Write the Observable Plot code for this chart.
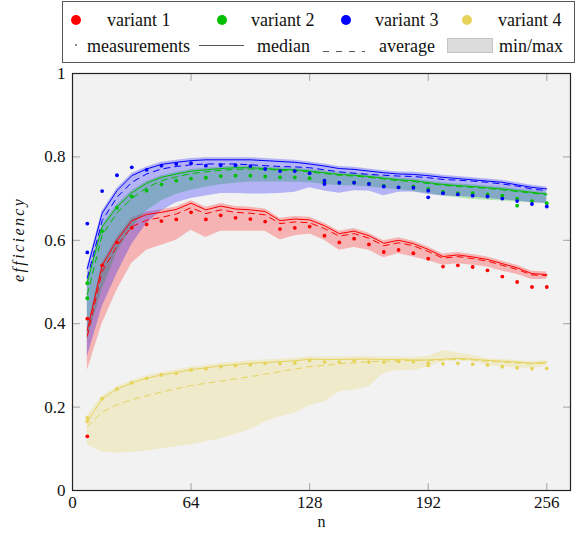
<!DOCTYPE html>
<html>
<head>
<meta charset="utf-8">
<script src="https://cdn.jsdelivr.net/npm/d3@7"></script>
<script src="https://cdn.jsdelivr.net/npm/@observablehq/plot@0.6"></script>
<style>
  html, body { margin: 0; padding: 0; background: #ffffff; overflow: hidden; }
  #legend { position: relative; width: 576px; height: 56px; font-family: "Liberation Serif", "DejaVu Serif", "Times New Roman", serif; font-size: 18px; color: #111; }
  #legend .t { position: absolute; line-height: 22px; white-space: nowrap; }
  #legend .dot { position: absolute; border-radius: 50%; }
</style>
</head>
<body>
<div id="legend"></div>
<div id="chart"></div>
<script>
// ---------- data ----------
const variants = ["variant 1", "variant 2", "variant 3", "variant 4"];
const colors = ["#ff0000", "#00bf00", "#0000ff", "#e6d45a"];
const xTicks = [0, 64, 128, 192, 256];
const yTicks = [0, 0.2, 0.4, 0.6, 0.8, 1];

const n = [8,16,24,32,40,48,56,64,72,80,88,96,104,112,120,128,136,144,152,160,168,176,184,192,200,208,216,224,232,240,248,256];

// variant 1
const v1Meas = [0.412,0.54,0.595,0.63,0.638,0.646,0.65,0.667,0.65,0.66,0.654,0.651,0.645,0.627,0.63,0.633,0.611,0.595,0.604,0.59,0.572,0.577,0.569,0.556,0.537,0.54,0.536,0.528,0.513,0.5,0.488,0.488];
const v1Median = [0.384,0.54,0.6,0.647,0.662,0.667,0.674,0.689,0.673,0.682,0.675,0.673,0.669,0.647,0.651,0.649,0.635,0.616,0.622,0.611,0.593,0.6,0.592,0.578,0.561,0.565,0.56,0.554,0.544,0.534,0.52,0.518];
const v1Avg = [0.37,0.525,0.586,0.633,0.648,0.655,0.663,0.678,0.664,0.673,0.667,0.665,0.661,0.64,0.644,0.642,0.628,0.61,0.616,0.605,0.587,0.594,0.587,0.573,0.557,0.561,0.556,0.55,0.54,0.53,0.517,0.515];
const v1Min = [0.288,0.40,0.48,0.545,0.576,0.588,0.6,0.624,0.607,0.622,0.622,0.622,0.622,0.601,0.611,0.615,0.6,0.576,0.583,0.576,0.558,0.568,0.56,0.551,0.54,0.544,0.54,0.536,0.526,0.518,0.506,0.506];
const v1Max = [0.39,0.546,0.607,0.653,0.668,0.673,0.68,0.695,0.679,0.688,0.681,0.679,0.675,0.653,0.657,0.655,0.641,0.622,0.628,0.617,0.599,0.606,0.598,0.584,0.567,0.571,0.566,0.56,0.55,0.54,0.526,0.524];
const v1ExtraN = [8];
const v1ExtraMeas = [0.13];

// variant 2
const v2Meas = [0.497,0.622,0.678,0.705,0.719,0.734,0.743,0.748,0.75,0.754,0.755,0.755,0.753,0.751,0.751,0.749,0.739,0.738,0.739,0.736,0.731,0.727,0.729,0.723,0.716,0.713,0.713,0.71,0.707,0.70,0.694,0.689];
const v2Median = [0.5,0.632,0.68,0.714,0.737,0.751,0.759,0.766,0.769,0.772,0.774,0.774,0.772,0.77,0.769,0.766,0.762,0.758,0.756,0.753,0.749,0.745,0.743,0.738,0.734,0.731,0.729,0.726,0.723,0.719,0.715,0.711];
const v2Avg = [0.47,0.612,0.666,0.70,0.726,0.743,0.752,0.76,0.764,0.768,0.77,0.771,0.77,0.768,0.767,0.764,0.76,0.756,0.754,0.751,0.747,0.743,0.741,0.736,0.732,0.729,0.727,0.724,0.721,0.717,0.713,0.709];
const v2Min = [0.36,0.48,0.57,0.63,0.67,0.695,0.71,0.72,0.727,0.733,0.737,0.74,0.74,0.74,0.739,0.738,0.734,0.731,0.73,0.728,0.724,0.721,0.717,0.712,0.706,0.702,0.698,0.696,0.694,0.692,0.69,0.688];
const v2Max = [0.505,0.637,0.685,0.719,0.741,0.755,0.763,0.77,0.773,0.776,0.778,0.778,0.776,0.774,0.773,0.77,0.766,0.762,0.76,0.757,0.753,0.749,0.747,0.742,0.738,0.735,0.733,0.73,0.727,0.723,0.719,0.715];
const v2ExtraN = [8, 240];
const v2ExtraMeas = [0.461, 0.683];

// variant 3
const v3Meas = [0.64,0.718,0.756,0.775,0.769,0.779,0.783,0.785,0.779,0.78,0.78,0.778,0.771,0.766,0.766,0.761,0.743,0.738,0.738,0.735,0.729,0.727,0.726,0.719,0.713,0.71,0.707,0.705,0.70,0.694,0.687,0.681];
const v3Median = [0.532,0.665,0.719,0.755,0.771,0.782,0.787,0.791,0.793,0.793,0.793,0.793,0.791,0.789,0.787,0.783,0.778,0.772,0.77,0.766,0.762,0.759,0.758,0.755,0.751,0.748,0.745,0.742,0.739,0.733,0.727,0.723];
const v3Avg = [0.51,0.647,0.703,0.739,0.759,0.771,0.777,0.781,0.783,0.783,0.783,0.781,0.779,0.777,0.776,0.774,0.769,0.764,0.761,0.758,0.756,0.754,0.753,0.75,0.746,0.744,0.742,0.739,0.735,0.73,0.723,0.719];
const v3Min = [0.32,0.44,0.52,0.59,0.64,0.67,0.69,0.70,0.706,0.712,0.712,0.711,0.711,0.712,0.715,0.726,0.718,0.713,0.719,0.718,0.707,0.715,0.716,0.71,0.706,0.705,0.703,0.70,0.697,0.694,0.69,0.688];
const v3Max = [0.537,0.67,0.724,0.76,0.776,0.787,0.792,0.796,0.798,0.798,0.798,0.798,0.796,0.794,0.792,0.788,0.783,0.777,0.775,0.771,0.767,0.764,0.763,0.76,0.756,0.753,0.75,0.747,0.744,0.738,0.732,0.728];
const v3ExtraN = [8, 136, 192];
const v3ExtraMeas = [0.571, 0.735, 0.703];

// variant 4
const v4Meas = [0.174,0.22,0.243,0.258,0.269,0.277,0.281,0.289,0.292,0.297,0.30,0.302,0.305,0.305,0.306,0.312,0.308,0.308,0.311,0.308,0.308,0.31,0.309,0.305,0.304,0.305,0.303,0.301,0.297,0.294,0.292,0.293];
const v4Median = [0.165,0.22,0.243,0.258,0.269,0.277,0.283,0.29,0.294,0.299,0.302,0.305,0.307,0.309,0.311,0.315,0.314,0.314,0.315,0.315,0.314,0.314,0.313,0.313,0.315,0.317,0.315,0.312,0.31,0.308,0.305,0.308];
const v4Avg = [0.153,0.188,0.206,0.218,0.227,0.236,0.244,0.252,0.257,0.262,0.268,0.273,0.279,0.285,0.291,0.297,0.30,0.304,0.306,0.309,0.31,0.311,0.312,0.312,0.313,0.314,0.313,0.31,0.308,0.306,0.304,0.306];
const v4Min = [0.11,0.092,0.09,0.091,0.095,0.10,0.105,0.11,0.117,0.124,0.134,0.146,0.164,0.177,0.185,0.204,0.212,0.236,0.241,0.249,0.281,0.288,0.288,0.296,0.31,0.312,0.31,0.30,0.296,0.293,0.293,0.298];
const v4Max = [0.18,0.226,0.249,0.264,0.275,0.283,0.289,0.296,0.3,0.305,0.308,0.311,0.313,0.315,0.317,0.321,0.32,0.32,0.321,0.321,0.32,0.32,0.319,0.322,0.336,0.33,0.324,0.316,0.314,0.312,0.309,0.312];
const v4ExtraN = [8, 192];
const v4ExtraMeas = [0.166, 0.30];

// ---------- build tables ----------
const series = [
  {meas: v1Meas, median: v1Median, avg: v1Avg, min: v1Min, max: v1Max, exN: v1ExtraN, exM: v1ExtraMeas},
  {meas: v2Meas, median: v2Median, avg: v2Avg, min: v2Min, max: v2Max, exN: v2ExtraN, exM: v2ExtraMeas},
  {meas: v3Meas, median: v3Median, avg: v3Avg, min: v3Min, max: v3Max, exN: v3ExtraN, exM: v3ExtraMeas},
  {meas: v4Meas, median: v4Median, avg: v4Avg, min: v4Min, max: v4Max, exN: v4ExtraN, exM: v4ExtraMeas}
];
const rows = [];
const pts = [];
series.forEach((s, k) => {
  n.forEach((x, i) => {
    rows.push({variant: variants[k], n: x, median: s.median[i], avg: s.avg[i], min: s.min[i], max: s.max[i]});
    pts.push({variant: variants[k], n: x, v: s.meas[i]});
  });
  s.exN.forEach((x, i) => pts.push({variant: variants[k], n: x, v: s.exM[i]}));
});

const serif = '"Liberation Serif", "DejaVu Serif", "Times New Roman", serif';
const colorScale = {domain: variants, range: colors};
const tickShape = {draw(ctx, l) { ctx.moveTo(0, 0); ctx.lineTo(0, -l); }};
const tickStyle = {length: 7, anchor: "start", shape: tickShape, stroke: "#a0a0a0", strokeWidth: 1};
const fmt = d => d === 0 ? "0" : d === 1 ? "1" : d.toFixed(1);

const marks = [Plot.frame({fill: "#f2f2f2", stroke: null})];
variants.forEach(v => {
  marks.push(Plot.areaY(rows.filter(r => r.variant === v), {x: "n", y1: "min", y2: "max", fill: "variant", fillOpacity: 0.26}));
});
variants.forEach(v => {
  const r = rows.filter(d => d.variant === v);
  const c = colors[variants.indexOf(v)];
  marks.push(Plot.lineY(r, {x: "n", y: "median", stroke: c, strokeWidth: 1}));
  marks.push(Plot.lineY(r, {x: "n", y: "avg", stroke: c, strokeWidth: 1, strokeDasharray: "6,5"}));
});
variants.forEach(v => {
  marks.push(Plot.dot(pts.filter(d => d.variant === v), {x: "n", y: "v", fill: "variant", r: 1.9, stroke: null}));
});
marks.push(
  Plot.vectorY(yTicks, {frameAnchor: "left", rotate: 90, ...tickStyle}),
  Plot.vectorY(yTicks, {frameAnchor: "right", rotate: -90, ...tickStyle}),
  Plot.vectorX(xTicks, {frameAnchor: "bottom", rotate: 0, ...tickStyle}),
  Plot.vectorX(xTicks, {frameAnchor: "top", rotate: 180, ...tickStyle}),
  Plot.frame({stroke: "#222", strokeWidth: 1.2}),
  Plot.axisY({ticks: yTicks, tickSize: 0, tickPadding: 7, tickFormat: fmt, label: null, fill: "#111"}),
  Plot.axisX({ticks: xTicks, tickSize: 0, tickPadding: 5, tickFormat: d => String(d), label: null, fill: "#111"}),
  Plot.text(["efficiency"], {text: d => d, frameAnchor: "left", dx: -54, rotate: -90, fontStyle: "italic", fontSize: 16, fill: "#111"}),
  Plot.text(["n"], {text: d => d, frameAnchor: "bottom", dy: 36, fontSize: 16, fill: "#111"})
);

const chart = Plot.plot({
  width: 576,
  height: 480,
  marginTop: 17,
  marginBottom: 46,
  marginLeft: 72,
  marginRight: 6,
  style: {fontFamily: serif, fontSize: "17px", background: "transparent", color: "#111"},
  x: {domain: [0, 268.8], ticks: xTicks},
  y: {domain: [0, 1], ticks: yTicks},
  color: colorScale,
  marks
});
for (const t of chart.querySelectorAll("text")) {
  if (t.textContent === "efficiency") t.style.letterSpacing = "2.4px";
}
document.getElementById("chart").appendChild(chart);

// ---------- legend (HTML, above the SVG) ----------
const lg = document.getElementById("legend");
function el(tag, cls, css, text) {
  const e = document.createElement(tag);
  if (cls) e.className = cls;
  e.style.cssText = css;
  if (text != null) e.textContent = text;
  lg.appendChild(e);
  return e;
}
el("div", "", "position:absolute;left:62px;top:1px;width:513px;height:62px;border:1px solid #555;box-sizing:border-box;");
const dotX = [76, 222, 346, 467];
const labX = [107, 251, 375, 498];
variants.forEach((v, i) => {
  el("div", "dot", `left:${dotX[i] - 5}px;top:15px;width:10px;height:10px;background:${colors[i]};`);
  el("span", "t", `left:${labX[i]}px;top:9px;`, v);
});
el("div", "dot", "left:75px;top:44px;width:2.4px;height:2.4px;background:#666;");
el("span", "t", "left:87px;top:35px;", "measurements");
el("div", "", "position:absolute;left:199px;top:45px;width:45px;height:0;border-top:1px solid #555;");
el("span", "t", "left:257px;top:35px;", "median");
const dash = el("div", "", "position:absolute;left:323px;top:40px;width:42px;height:10px;");
dash.innerHTML = '<svg width="42" height="10"><line x1="0" y1="5.5" x2="42" y2="5.5" stroke="#555" stroke-width="1" stroke-dasharray="6,7"/></svg>';
el("span", "t", "left:379px;top:35px;", "average");
el("div", "", "position:absolute;left:447px;top:38px;width:46px;height:15px;background:#dcdcdc;border:1px solid #c4c4c4;box-sizing:border-box;");
el("span", "t", "left:499px;top:35px;", "min/max");
</script>
</body>
</html>
